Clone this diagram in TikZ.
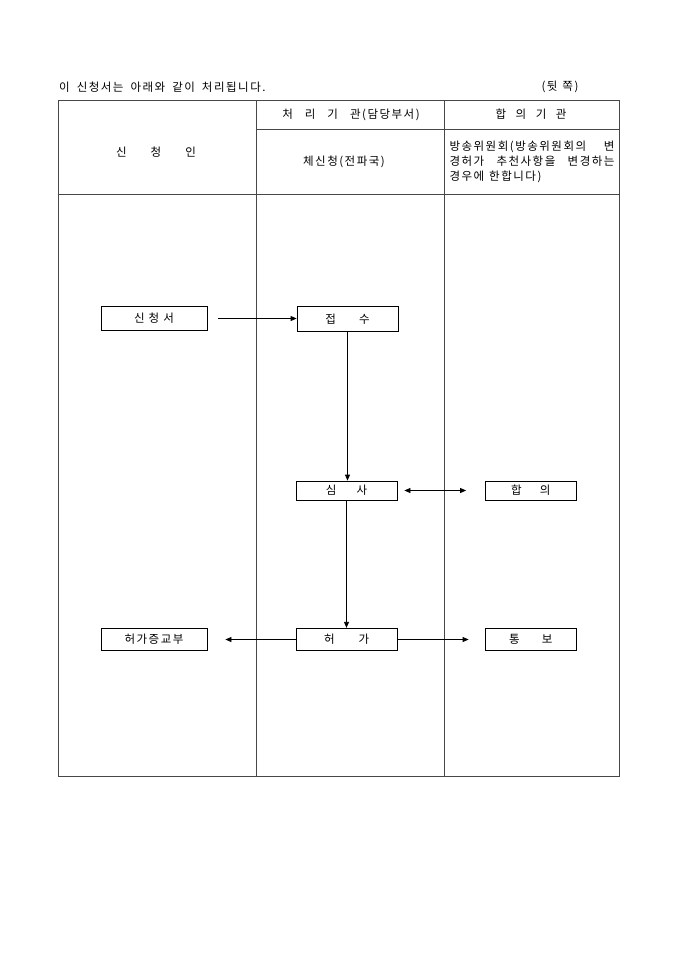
\documentclass[tikz,border=0pt]{standalone}
\usepackage{fontspec}
\setmainfont{Noto Sans CJK KR}
\newfontfamily\tfont[LetterSpace=13]{Noto Sans CJK KR}
\usetikzlibrary{arrows.meta}
\tikzset{
  tbl/.style={draw=black!72, line width=1pt},
  flowbox/.style={draw=black, line width=0.8pt, inner sep=0pt, font=\tfont\fontsize{11.5}{14}\selectfont},
  txt/.style={inner sep=0pt, font=\tfont\fontsize{11.5}{14}\selectfont},
  ttl/.style={inner sep=0pt, font=\tfont\fontsize{11.5}{13}\selectfont},
  arr/.style={-{Triangle[length=6pt,width=5pt]}, line width=0.8pt},
  darr/.style={{Triangle[length=6pt,width=5pt]}-{Triangle[length=6pt,width=5pt]}, line width=0.8pt}
}
\begin{document}
\begin{tikzpicture}[x=1pt,y=-1pt]
\useasboundingbox (0,0) rectangle (680,962);
\fill[white] (0,0) rectangle (680,962);
% title
\node[ttl, anchor=west] (title) at (59,87) {이\hspace{7pt}신청서는\hspace{7pt}아래와\hspace{7pt}같이\hspace{7pt}처리됩니다.};
\node[ttl] (side) at (560,87) {(뒷\hspace{5pt}쪽)};
% table
\draw[tbl] (58.5,100) rectangle (619,776.5);
\draw[tbl] (256,100) -- (256,776.5);
\draw[tbl] (444,100) -- (444,776.5);
\draw[tbl] (256,129) -- (619,129);
\draw[tbl] (58.5,194.5) -- (619,194.5);
% header texts
\node[txt] (h1) at (156,152) {신\hspace{24pt}청\hspace{24pt}인};
\node[txt] (h2) at (351,114.5) {처\hspace{12pt}리\hspace{12pt}기\hspace{12pt}관(담당부서)};
\node[txt] (h3) at (531,114.5) {합\hspace{9.5pt}의\hspace{9.5pt}기\hspace{9.5pt}관};
\node[txt] (h4) at (344,162) {체신청(전파국)};
\node[txt, text width=165pt, align=left, font=\tfont\fontsize{11.5}{14.75}\selectfont] (h5) at (532,162)
  {\makebox[165pt][s]{방송위원회(방송위원회의\hfill 변}\\\makebox[165pt][s]{경허가\hfill 추천사항을\hfill 변경하는}\\경우에\hspace{5pt}한합니다)};
% flow boxes
\node[flowbox, minimum width=106pt, minimum height=24pt] (sq) at (154,318.5) {신\hspace{4pt}청\hspace{4pt}서};
\node[flowbox, minimum width=101pt, minimum height=24.5pt] (js) at (347.5,318.75) {접\hspace{23pt}수};
\node[flowbox, minimum width=101pt, minimum height=19pt] (ss) at (346.5,490.5) {심\hspace{20pt}사};
\node[flowbox, minimum width=90.5pt, minimum height=19pt] (hy) at (530.75,490.5) {합\hspace{18pt}의};
\node[flowbox, minimum width=106pt, minimum height=22.5pt] (hc) at (154,639.5) {허가증교부};
\node[flowbox, minimum width=100.5pt, minimum height=22.5pt] (hg) at (346.75,639.5) {허\hspace{24pt}가};
\node[flowbox, minimum width=90.5pt, minimum height=22.5pt] (tb) at (530.75,639.5) {통\hspace{22pt}보};
% connectors
\draw[arr, shorten <=11pt] (sq.east) -- (sq.east -| js.west);
\draw[arr] (js.south) -- (js.south |- ss.north);
\draw[darr, shorten <=7pt, shorten >=19pt] (ss.east) -- (hy.west);
\draw[arr] (ss.south) -- (ss.south |- hg.north);
\draw[arr, shorten >=18pt] (hg.west) -- (hc.east);
\draw[arr, shorten >=16.5pt] (hg.east) -- (tb.west);
\end{tikzpicture}
\end{document}
